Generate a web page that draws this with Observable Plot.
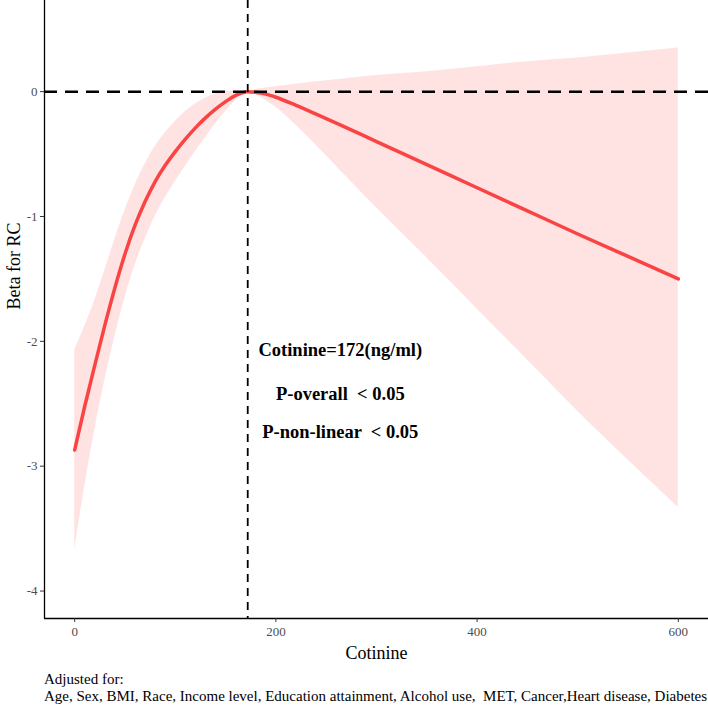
<!DOCTYPE html>
<html><head><meta charset="utf-8">
<script src="https://cdn.jsdelivr.net/npm/d3@7"></script>
<script src="https://cdn.jsdelivr.net/npm/@observablehq/plot@0.6"></script>
<style>
body{margin:0;background:#fff;}
#chart{width:708px;height:708px;position:relative;font-family:"Liberation Serif","Times New Roman",serif;overflow:hidden;}
#chart svg text{white-space:pre;}
.cap{position:absolute;left:44px;top:671px;font-size:15px;line-height:17px;color:#000;white-space:pre;font-family:"Liberation Serif","Times New Roman",serif;}
</style></head><body><div id="chart"></div><script>
// Data
const cotinine = [0,10,20,30,40,50,60,70,80,90,100,110,120,130,140,150,160,172,180,190,200,220,240,265,300,350,400,450,500,550,600];
const fit      = [-2.87,-2.52,-2.19,-1.87,-1.57,-1.30,-1.07,-0.88,-0.72,-0.59,-0.48,-0.38,-0.29,-0.21,-0.14,-0.08,-0.03,0,-0.005,-0.02,-0.045,-0.11,-0.18,-0.27,-0.40,-0.585,-0.77,-0.955,-1.14,-1.32,-1.50];
const upper    = [-2.07,-1.88,-1.67,-1.43,-1.18,-0.95,-0.75,-0.58,-0.44,-0.33,-0.24,-0.16,-0.10,-0.05,-0.02,0,0.005,0,0.015,0.03,0.04,0.06,0.08,0.10,0.13,0.16,0.20,0.24,0.27,0.31,0.35];
const lower    = [-3.67,-3.16,-2.71,-2.31,-1.96,-1.65,-1.39,-1.18,-1.00,-0.85,-0.72,-0.60,-0.48,-0.37,-0.26,-0.16,-0.07,0,-0.025,-0.07,-0.125,-0.27,-0.43,-0.64,-0.93,-1.33,-1.74,-2.15,-2.56,-2.95,-3.33];
const xTicks = [0,200,400,600];
const yTicks = [-4,-3,-2,-1,0];
const refCotinine = 172;
const refBeta = 0;
const notes = ["Cotinine=172(ng/ml)","P-overall  < 0.05","P-non-linear  < 0.05"];
const noteX = 264;
const noteY = [-2.07,-2.42,-2.73];
const xTitle = "Cotinine";
const yTitle = "Beta for RC";
const captionLines = ["Adjusted for:","Age, Sex, BMI, Race, Income level, Education attainment, Alcohol use,  MET, Cancer,Heart disease, Diabetes"];

const xDomain = [-30, 630];
const yDomain = [-4.22, 0.73];
const rows = cotinine.map((x,i)=>({x, fit:fit[i], lo:lower[i], hi:upper[i]}));

const serif = '"Liberation Serif","Times New Roman",serif';
const chart = Plot.plot({
  width:708, height:672,
  marginLeft:44, marginRight:0, marginTop:0, marginBottom:54,
  style:{fontFamily:serif, background:"#fff", overflow:"visible"},
  x:{domain:xDomain},
  y:{domain:yDomain},
  marks:[
    Plot.areaY(rows,{x:"x",y1:"lo",y2:"hi",fill:"#FFE3E3",curve:"monotone-x"}),
    Plot.line(rows,{x:"x",y:"fit",stroke:"#FA4343",strokeWidth:3.5,curve:"monotone-x"}),
    Plot.ruleY([refBeta],{stroke:"#000",strokeWidth:2.5,strokeDasharray:"13,8"}),
    Plot.ruleX([refCotinine],{stroke:"#000",strokeWidth:1.8,strokeDasharray:"8,6"}),
    Plot.ruleX([xDomain[0]],{stroke:"#000",strokeWidth:1.3}),
    Plot.ruleY([yDomain[0]],{stroke:"#000",strokeWidth:1.3}),
    Plot.axisX({ticks:xTicks,tickSize:4,tickPadding:4,fontSize:13,fill:"#4D4D4D",stroke:"#333",label:null,tickFormat:d=>String(d)}),
    Plot.axisY({ticks:yTicks,tickSize:4,tickPadding:3,fontSize:13,fill:"#4D4D4D",stroke:"#333",label:null,tickFormat:d=>String(d)}),
    Plot.text([xTitle],{frameAnchor:"bottom",dy:40,text:d=>d,fontSize:18,fill:"#000"}),
    Plot.text([yTitle],{frameAnchor:"left",dx:-30,rotate:-90,text:d=>d,fontSize:18,fill:"#000"}),
    Plot.text(notes,{x:()=>noteX,y:(d,i)=>noteY[i],text:d=>d,fontSize:18.5,fontWeight:"bold",fill:"#000",textAnchor:"middle"})
  ]
});
const root = document.getElementById("chart");
root.appendChild(chart);
const cap = document.createElement("div");
cap.className = "cap";
cap.textContent = captionLines.join("\n");
root.appendChild(cap);
</script></body></html>
